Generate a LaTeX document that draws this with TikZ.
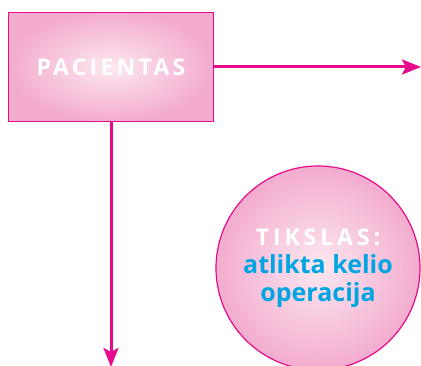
\documentclass[tikz,border=0pt]{standalone}
\usepackage{fontspec}
\setmainfont{Open Sans}
\usetikzlibrary{arrows.meta, positioning}
\definecolor{magentaline}{RGB}{232,10,140}
\definecolor{pinkfill}{RGB}{243,172,206}
\definecolor{pinkglow}{RGB}{252,232,241}
\definecolor{cyantext}{RGB}{0,166,226}
\tikzstyle{arrow} = [line width=3pt,magentaline,-{Stealth[length=19pt,width=15pt,inset=4pt]}]
\tikzstyle{box} = [draw=magentaline,line width=1.4pt,minimum width=205pt,minimum height=109pt,
  inner color=pinkglow,outer color=pinkfill,text=white,
  font=\addfontfeature{LetterSpace=14}\fontsize{23}{26}\selectfont\bfseries]
\tikzstyle{goal} = [circle,draw=magentaline,line width=1.2pt,minimum size=204pt,
  inner color=pinkglow,outer color=pinkfill,align=center,inner sep=0pt,
  font=\fontsize{25}{28}\selectfont\bfseries]

\begin{document}
\begin{tikzpicture}[x=1pt,y=-1pt]
\useasboundingbox (0,0) rectangle (421,366);

% Patient box
\node[box] (patient) at (111,67) {PACIENTAS};

% Goal circle
\node[goal] (target) at (318,268) {%
  {\addfontfeature{LetterSpace=17}\fontsize{23}{28}\selectfont\color{white}TIKSLAS:}\\
  \textcolor{cyantext}{atlikta kelio}\\
  \textcolor{cyantext}{operacija}};

% Arrow ends
\coordinate (east) at (421,67);
\coordinate (south) at (111,367);

% Arrows
\draw[arrow] (patient.east) -- (east);
\draw[arrow] (patient.south) -- (south);
\end{tikzpicture}
\end{document}
